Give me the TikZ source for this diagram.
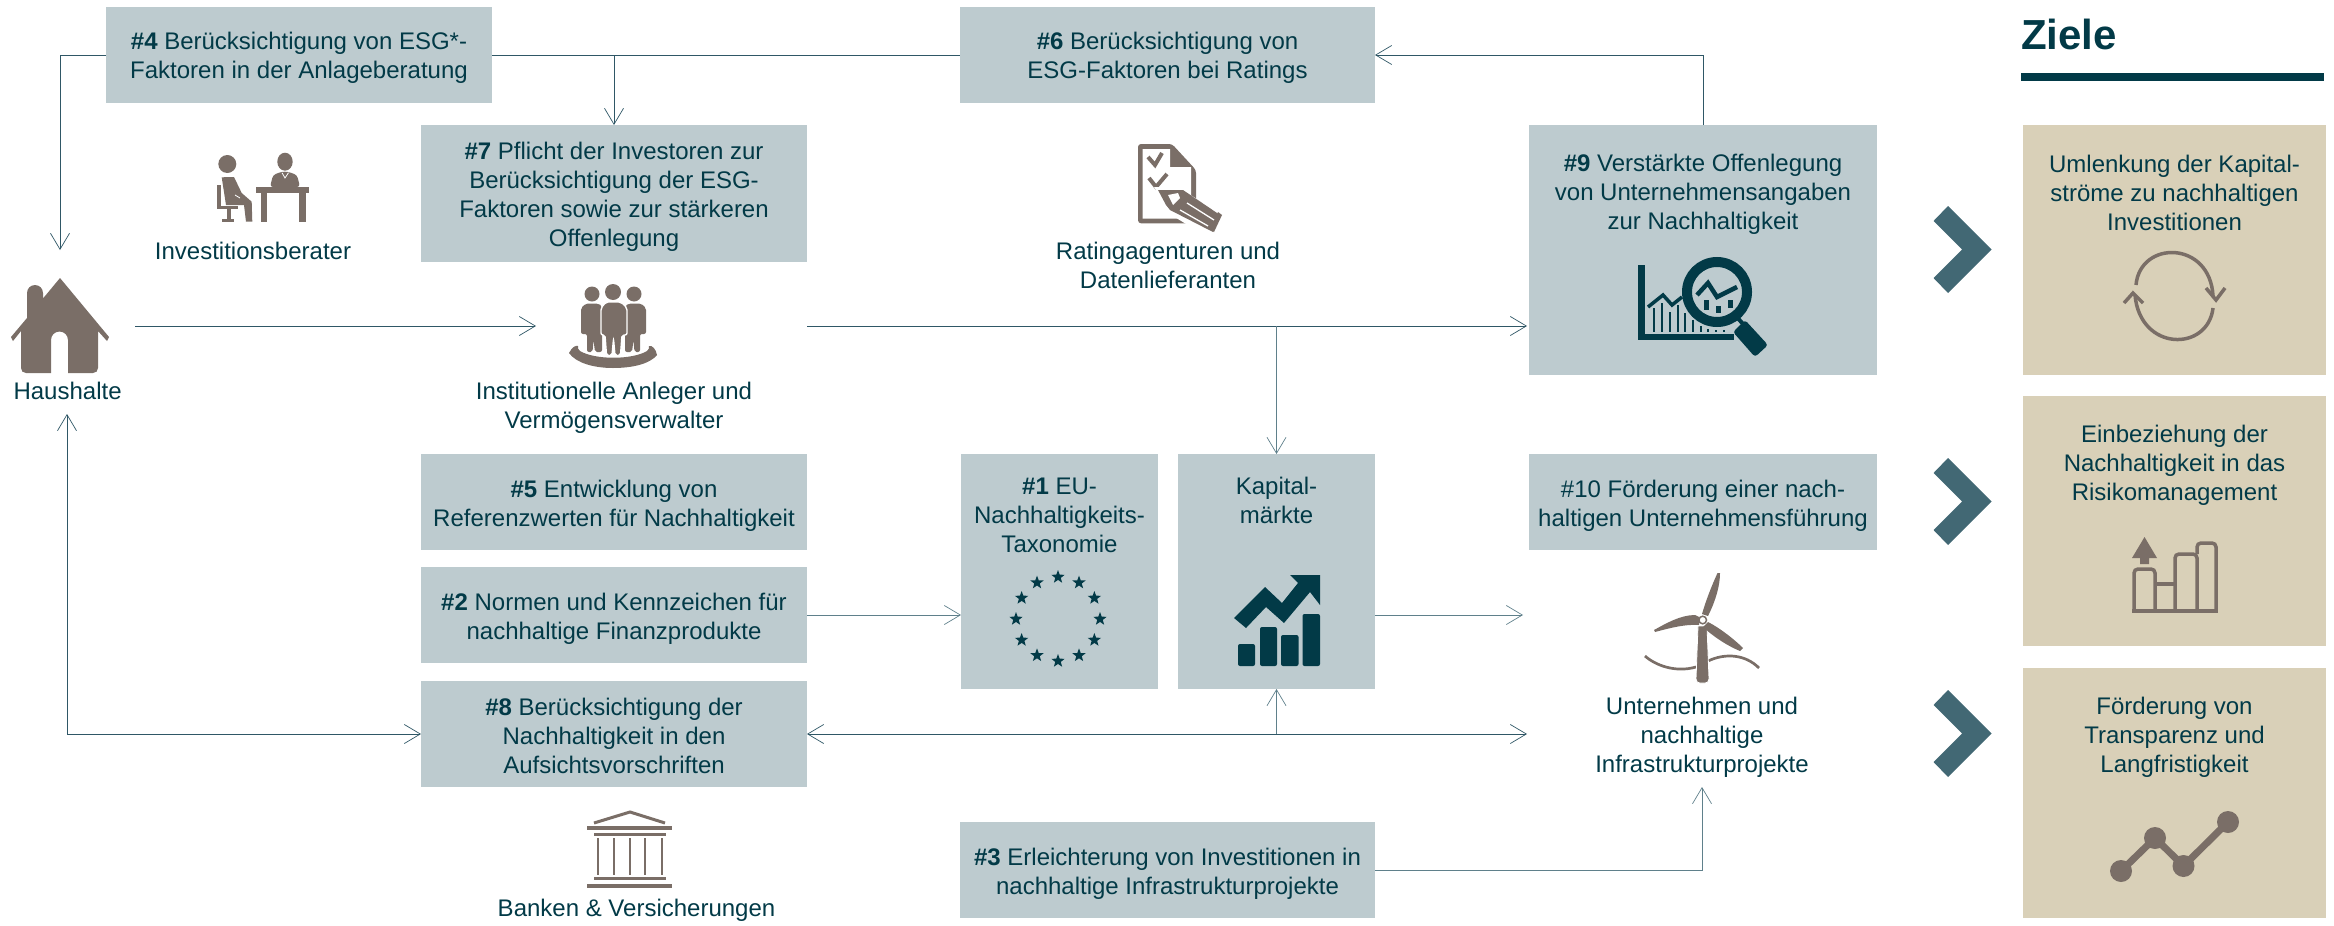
\documentclass[tikz,border=0pt]{standalone}
\usepackage{fontspec}
\setmainfont{Liberation Sans}
\usetikzlibrary{arrows.meta,shapes.geometric,calc}
\definecolor{boxc}{HTML}{BDCBCF}
\definecolor{goalc}{HTML}{D9D0B8}
\definecolor{greyc}{HTML}{7A6E67}
\definecolor{darkc}{HTML}{023A47}
\definecolor{chevc}{HTML}{426874}
\definecolor{linec}{HTML}{2F5766}
\definecolor{linel}{HTML}{5F808B}
\newcommand{\lnstrut}{\rule[-1.8pt]{0pt}{29pt}}
\tikzset{
 lbl/.style={inner sep=0pt,outer sep=0pt,align=center,text=darkc,font=\fontsize{24}{29}\selectfont,
   execute at begin node=\lnstrut,execute at end node=\lnstrut},
 bluebox/.style={inner sep=0pt,outer sep=0pt,fill=boxc,minimum width=#1},
 goalbox/.style={inner sep=0pt,outer sep=0pt,fill=goalc,minimum width=303pt,minimum height=250pt},
 conn/.style={draw=linec,line width=1pt},
 connl/.style={draw=linel,line width=1pt},
 tip/.style={-{Straight Barb[length=16pt,width=19pt,line width=0.7pt]}},
 bitip/.style={{Straight Barb[length=16pt,width=19pt,line width=0.7pt]}-{Straight Barb[length=16pt,width=19pt,line width=0.7pt]}},
 chev/.style={fill=chevc},
 igrey/.style={fill=greyc},
 idark/.style={fill=darkc},
 eustar/.style={star,star points=5,star point ratio=2.4,fill=darkc,inner sep=0pt,minimum size=14pt},
}
\begin{document}
\begin{tikzpicture}[x=1pt,y=-1pt]
\useasboundingbox (0,0) rectangle (2334,926);
% boxes
\node[bluebox=386pt,minimum height=96pt] (b4) at (299,55) {};
\node[lbl] (t4) at (299,58) {\textbf{\#4} Berücksichtigung von ESG*-\\Faktoren in der Anlageberatung};
\node[bluebox=415pt,minimum height=96pt] (b6) at (1167.5,55) {};
\node[lbl] (t6) at (1167.5,58) {\textbf{\#6} Berücksichtigung von\\ESG-Faktoren bei Ratings};
\node[bluebox=386pt,minimum height=137pt] (b7) at (614,193.5) {};
\node[lbl] (t7) at (614,196.5) {\textbf{\#7} Pflicht der Investoren zur\\Berücksichtigung der ESG-\\Faktoren sowie zur stärkeren\\Offenlegung};
\node[bluebox=348pt,minimum height=250pt] (b9) at (1703,250) {};
\node[lbl] (t9) at (1703,194) {\textbf{\#9} Verstärkte Offenlegung\\von Unternehmensangaben\\zur Nachhaltigkeit};
\node[bluebox=386pt,minimum height=96pt] (b5) at (614,502) {};
\node[lbl] (t5) at (614,505.5) {\textbf{\#5} Entwicklung von\\Referenzwerten für Nachhaltigkeit};
\node[bluebox=386pt,minimum height=96pt] (b2) at (614,615) {};
\node[lbl] (t2) at (614,618.5) {\textbf{\#2} Normen und Kennzeichen für\\nachhaltige Finanzprodukte};
\node[bluebox=386pt,minimum height=106pt] (b8) at (614,734) {};
\node[lbl] (t8) at (614,737) {\textbf{\#8} Berücksichtigung der\\Nachhaltigkeit in den\\Aufsichtsvorschriften};
\node[bluebox=197pt,minimum height=235pt] (b1) at (1059.5,571.5) {};
\node[lbl] (t1) at (1059.5,516) {\textbf{\#1} EU-\\Nachhaltigkeits-\\Taxonomie};
\node[bluebox=197pt,minimum height=235pt] (kap) at (1276.5,571.5) {};
\node[lbl] (tk) at (1276.5,501.5) {Kapital-\\märkte};
\node[bluebox=348pt,minimum height=96pt] (b10) at (1703,502) {};
\node[lbl] (t10) at (1703,505.5) {\#10 Förderung einer nach-\\haltigen Unternehmensführung};
\node[bluebox=415pt,minimum height=96pt] (b3) at (1167.5,870) {};
\node[lbl] (t3) at (1167.5,873.5) {\textbf{\#3} Erleichterung von Investitionen in\\nachhaltige Infrastrukturprojekte};
\node[goalbox] (g1) at (2174.5,250) {};
\node[goalbox] (g2) at (2174.5,521) {};
\node[goalbox] (g3) at (2174.5,793) {};
\node[lbl] (tg1) at (2174.5,193.6) {Umlenkung der Kapital-\\ströme zu nachhaltigen\\Investitionen};
\node[lbl] (tg2) at (2174.5,465) {Einbeziehung der\\Nachhaltigkeit in das\\Risikomanagement};
\node[lbl] (tg3) at (2174.5,737) {Förderung von\\Transparenz und\\Langfristigkeit};
% labels
\node[lbl] (linv) at (253,247) {Investitionsberater};
\node[lbl] (lhh) at (67.6,387) {Haushalte};
\node[lbl] (linst) at (614,408) {Institutionelle Anleger und\\Vermögensverwalter};
\node[lbl] (lrat) at (1168,266.5) {Ratingagenturen und\\Datenlieferanten};
\node[lbl] (lban) at (636.5,905) {Banken \& Versicherungen};
\node[lbl] (lunt) at (1702,737) {Unternehmen und\\nachhaltige\\Infrastrukturprojekte};
\node[inner sep=0pt,outer sep=0pt,anchor=base west,text=darkc,font=\fontsize{42}{48}\selectfont\bfseries] (ziele) at (2021,49) {Ziele};
\fill[darkc] (2021,73) rectangle (2324,81);
% free ends
\coordinate (hhTop) at (60,250);
\coordinate (hhR) at (135,326);
\coordinate (instL) at (536,326);
\coordinate (aL) at (807,326);
\coordinate (aR) at (1527,326);
\coordinate (hhB) at (67,414);
\coordinate (kapR) at (1523,615);
\coordinate (untL) at (1527,734);
\coordinate (untB) at (1702,787);
% connectors
\draw[conn,tip] (b4.west) -| (hhTop);
\draw[conn] (b4.east) -- (b6.west);
\draw[conn,tip] (b4.east -| b7.north) -- (b7.north);
\draw[conn,tip] (b9.north) |- (b6.east);
\draw[conn,tip] (hhR) -- (instL);
\draw[conn,tip] (aL) -- (aR);
\draw[connl,tip] (aL -| kap.north) -- (kap.north);
\draw[connl,tip] (b2.east) -- (b2.east -| b1.west);
\draw[connl,tip] (kap.east |- b2.east) -- (kapR);
\draw[conn,bitip] (hhB) |- (b8.west);
\draw[conn,bitip] (b8.east) -- (untL);
\draw[connl,tip] (b8.east -| kap.south) -- (kap.south);
\draw[connl,tip] (b3.east) -| (untB);
% chevrons
\foreach \yy in {206,458,690}{
 \fill[chev] (1948,\yy) -- (1991.5,\yy+43.5) -- (1948,\yy+87) -- (1933.5,\yy+72) -- (1962,\yy+43.5) -- (1933.5,\yy+15) -- cycle;
}
% house
\fill[igrey] (60,278) -- (43,298.5) -- (43,293) arc[start angle=0,end angle=180,radius=8pt] -- (27,318) -- (11,337) -- (13,341) -- (21,331) -- (21,368) .. controls (21,371) and (23,373) .. (26,373) -- (51,373) -- (51,340) arc[start angle=180,end angle=0,radius=8.5pt] -- (68,373) -- (93,373) .. controls (96,373) and (98,371) .. (98,368) -- (98,331) -- (107,341) -- (109,337) -- cycle;
% advisor icon
\fill[igrey] (227.3,164) circle[radius=9pt];
\fill[igrey] (285,161.7) ellipse[x radius=7.7pt,y radius=9pt];
\fill[igrey,rounded corners=3pt] (270,187) -- (273,175) -- (281.7,171.7) -- (288,171.7) -- (297,175) -- (300,187) -- cycle;
\draw[white,line width=0.8pt] (282,172.7) -- (285,178) -- (288.5,172.7);
\fill[igrey] (256,186.7) rectangle (309,193.3);
\fill[igrey] (260.7,193) rectangle (267,221.7);
\fill[igrey] (299,193) rectangle (306,221.7);
\fill[igrey] (221.7,177.3) -- (234,177) -- (241.7,193) -- (251.7,201.7) -- (252.3,221.7) -- (246,221.7) -- (244,205) -- (226,205) -- cycle;
\draw[white,line width=0.8pt] (235,195) -- (240,198);
\fill[igrey] (217.3,185) rectangle (221,209);
\fill[igrey] (217.3,205.5) rectangle (238,209.3);
\fill[igrey] (226.7,209) rectangle (230.7,220);
\fill[igrey] (221.7,219.3) rectangle (234,221.7);
% people icon
\fill[igrey] (569,353) .. controls (572,347) and (576,345) .. (578,346) .. controls (578,349) and (578,349) .. (580,351) .. controls (595,360) and (632,360) .. (647,351) .. controls (649,349) and (649,349) .. (649,346) .. controls (652,345) and (656,349) .. (657,355) .. controls (650,364) and (632,368) .. (613,368) .. controls (594,368) and (576,363) .. (569,353) -- cycle;
\fill[igrey] (592,294) circle[radius=7.5pt];
\fill[igrey] (634,294) circle[radius=7.5pt];
\fill[igrey] (613,292) circle[radius=8pt];
\fill[igrey,rounded corners=2pt] (581,334) -- (581,308) -- (586,303.5) -- (598,303.5) -- (602,306) -- (602,352) -- (595,352) -- (593.5,340) -- (592.5,352) -- (587,352) -- (587,334) -- cycle;
\fill[igrey,rounded corners=2pt] (646,334) -- (646,308) -- (641,303.5) -- (629,303.5) -- (625,306) -- (625,352) -- (632,352) -- (633.5,340) -- (634.5,352) -- (640,352) -- (640,334) -- cycle;
\draw[white,line width=1.4pt,fill=greyc,rounded corners=2pt] (601,335) -- (601,308) -- (606,302) -- (621,302) -- (627,308) -- (627,335) -- (622,335) -- (620.5,355.5) -- (615,355.5) -- (613.5,339) -- (612,355.5) -- (606.5,355.5) -- (605,335) -- cycle;
% document icon
\fill[igrey,rounded corners=3pt] (1138,144) -- (1172,144) -- (1196,170) -- (1196,223.3) -- (1138,223.3) -- cycle;
\fill[white] (1142.5,149) -- (1170,149) -- (1170,167) -- (1191,167) -- (1191,218.5) -- (1142.5,218.5) -- cycle;
\draw[draw=greyc,line width=4pt] (1148,157) -- (1155,165) -- (1162,153);
\draw[draw=greyc,line width=4pt] (1149,178) -- (1156,187) -- (1167,174);
\draw[white,line width=27pt] (1176,202) -- (1225,232);
\fill[white] (1154,187) -- (1186,187) -- (1186,215) -- (1170,215) -- cycle;
\fill[igrey] (1158,190) -- (1183,190) -- (1220,215) -- (1213,232) -- (1170,210) -- (1166,205) -- cycle;
\fill[white] (1168,195) -- (1178,193) -- (1180,198) -- (1173,205) -- cycle;
\draw[white,line width=1.3pt] (1187,203) -- (1214,220);
\draw[white,line width=1.3pt] (1180,210) -- (1208,226);
\fill[igrey] (1218,212) -- (1222,215) -- (1214,232) -- (1211,230) -- cycle;
% magnifier icon
\fill[idark] (1638,265) rectangle (1645,340);
\fill[idark] (1638,334) rectangle (1734,340);
\draw[draw=darkc,line width=3.5pt] (1648,307) -- (1663,295) -- (1672,305) -- (1682,297);
\foreach \xx/\yy in {1654/308,1662/303,1670/312,1678/305,1685/313,1693/320,1701/326,1708/329,1716/330,1724/330}{
 \draw[draw=darkc,line width=2.6pt] (\xx,\yy) -- (\xx,332);
}
\draw[draw=darkc,line width=10pt,fill=boxc] (1717,292) circle[radius=30pt];
\draw[draw=darkc,line width=4.5pt] (1697,295) -- (1708,283) -- (1717,297) -- (1737,287);
\foreach \xx/\yy/\zz in {1706/300/310,1718/306/313,1730/300/308}{
 \draw[draw=darkc,line width=5pt] (\xx,\yy) -- (\xx,\zz);
}
\fill[idark,rounded corners=3pt] (1745,320) -- (1733,332) -- (1755,357) -- (1768,345) -- cycle;
\draw[draw=darkc,line width=4pt] (1735,315) -- (1743,324);
% EU stars
\foreach \aa in {0,30,...,330}{
 \node[eustar] (s\aa) at ($(1058,619)+(\aa:42)$) {};
}
% capital market icon
\foreach \xa/\xb/\yt in {1238/1255/644,1260/1277/627,1281/1298.5/635,1302.5/1320/614}{
 \fill[idark,rounded corners=2pt] (\xa,666) rectangle (\xb,\yt);
}
\fill[idark] (1234,618) -- (1265,587) -- (1282,603) -- (1298,583) -- (1290,575) -- (1320,575) -- (1320,605) -- (1310,592) -- (1284,623) -- (1266,607) -- (1246,628) -- cycle;
% cycle icon
\draw[draw=greyc,line width=3.5pt] (2136,285) .. controls (2140,240) and (2210,240) .. (2213,296);
\draw[draw=greyc,line width=3.5pt] (2206,288) -- (2216,300) -- (2225,288);
\draw[draw=greyc,line width=3.5pt] (2213,308) .. controls (2208,352) and (2140,352) .. (2135,295);
\draw[draw=greyc,line width=3.5pt] (2124,303) -- (2133,293) -- (2143,303);
% risk bars icon
\fill[igrey] (2144.5,537) -- (2157,558) -- (2149,558) -- (2149,564) -- (2140,564) -- (2140,558) -- (2132,558) -- cycle;
\draw[draw=greyc,line width=3.5pt,rounded corners=4pt] (2134,610) -- (2134,569) -- (2155,569) -- (2155,610);
\draw[draw=greyc,line width=3.5pt] (2155,584) -- (2175,584);
\draw[draw=greyc,line width=3.5pt,rounded corners=4pt] (2175,610) -- (2175,554) -- (2197,554) -- (2197,610);
\draw[draw=greyc,line width=3.5pt,rounded corners=4pt] (2197,554) -- (2197,543) -- (2216,543) -- (2216,610);
\draw[draw=greyc,line width=4pt] (2132,610.5) -- (2218,610.5);
% line chart icon
\draw[draw=greyc,line width=7pt] (2121,871) -- (2155,838) -- (2183.5,866) -- (2228,822);
\foreach \xx/\yy in {2121/871,2155/838,2183.5/866,2228/822}{
 \fill[igrey] (\xx,\yy) circle[radius=11pt];
}
% wind turbine
\draw[draw=greyc,line width=2.7pt] (1645,656) .. controls (1655,665) and (1675,673) .. (1696,667);
\draw[draw=greyc,line width=2.7pt] (1708,661) .. controls (1725,653) and (1745,654) .. (1759,668);
\draw[white,line width=0.8pt,fill=greyc] (1698,626) -- (1707,626) -- (1709,679) .. controls (1709,682) and (1707,683) .. (1705,683) -- (1700,683) .. controls (1698,683) and (1696,682) .. (1696,679) -- cycle;
\fill[igrey] (1720,573) .. controls (1720,585) and (1716,600) .. (1708,616) -- (1702,614) .. controls (1706,600) and (1712,585) .. (1717.5,573) -- cycle;
\fill[igrey] (1654,630) .. controls (1665,624) and (1680,615) .. (1695,615) -- (1699,617) -- (1699,625) .. controls (1685,624) and (1670,628) .. (1655,632) -- cycle;
\fill[igrey] (1743,648) .. controls (1735,640) and (1720,628) .. (1708,622) -- (1703,627) .. controls (1715,638) and (1728,646) .. (1740,651) -- cycle;
\draw[draw=greyc,line width=1.5pt,fill=white] (1702.7,620) circle[radius=3.8pt];
% bank icon
\draw[draw=greyc,line width=3pt] (594,823) -- (630,812) -- (665,823);
\fill[igrey] (587,826) rectangle (672,830);
\fill[igrey] (594,833) rectangle (666,836);
\foreach \xx in {598,614,630,645,662}{ \fill[igrey] (\xx-1.3,838) rectangle (\xx+1.3,875); }
\fill[igrey] (594,877) rectangle (666,880);
\fill[igrey] (587,884) rectangle (672,888);
\end{tikzpicture}
\end{document}
